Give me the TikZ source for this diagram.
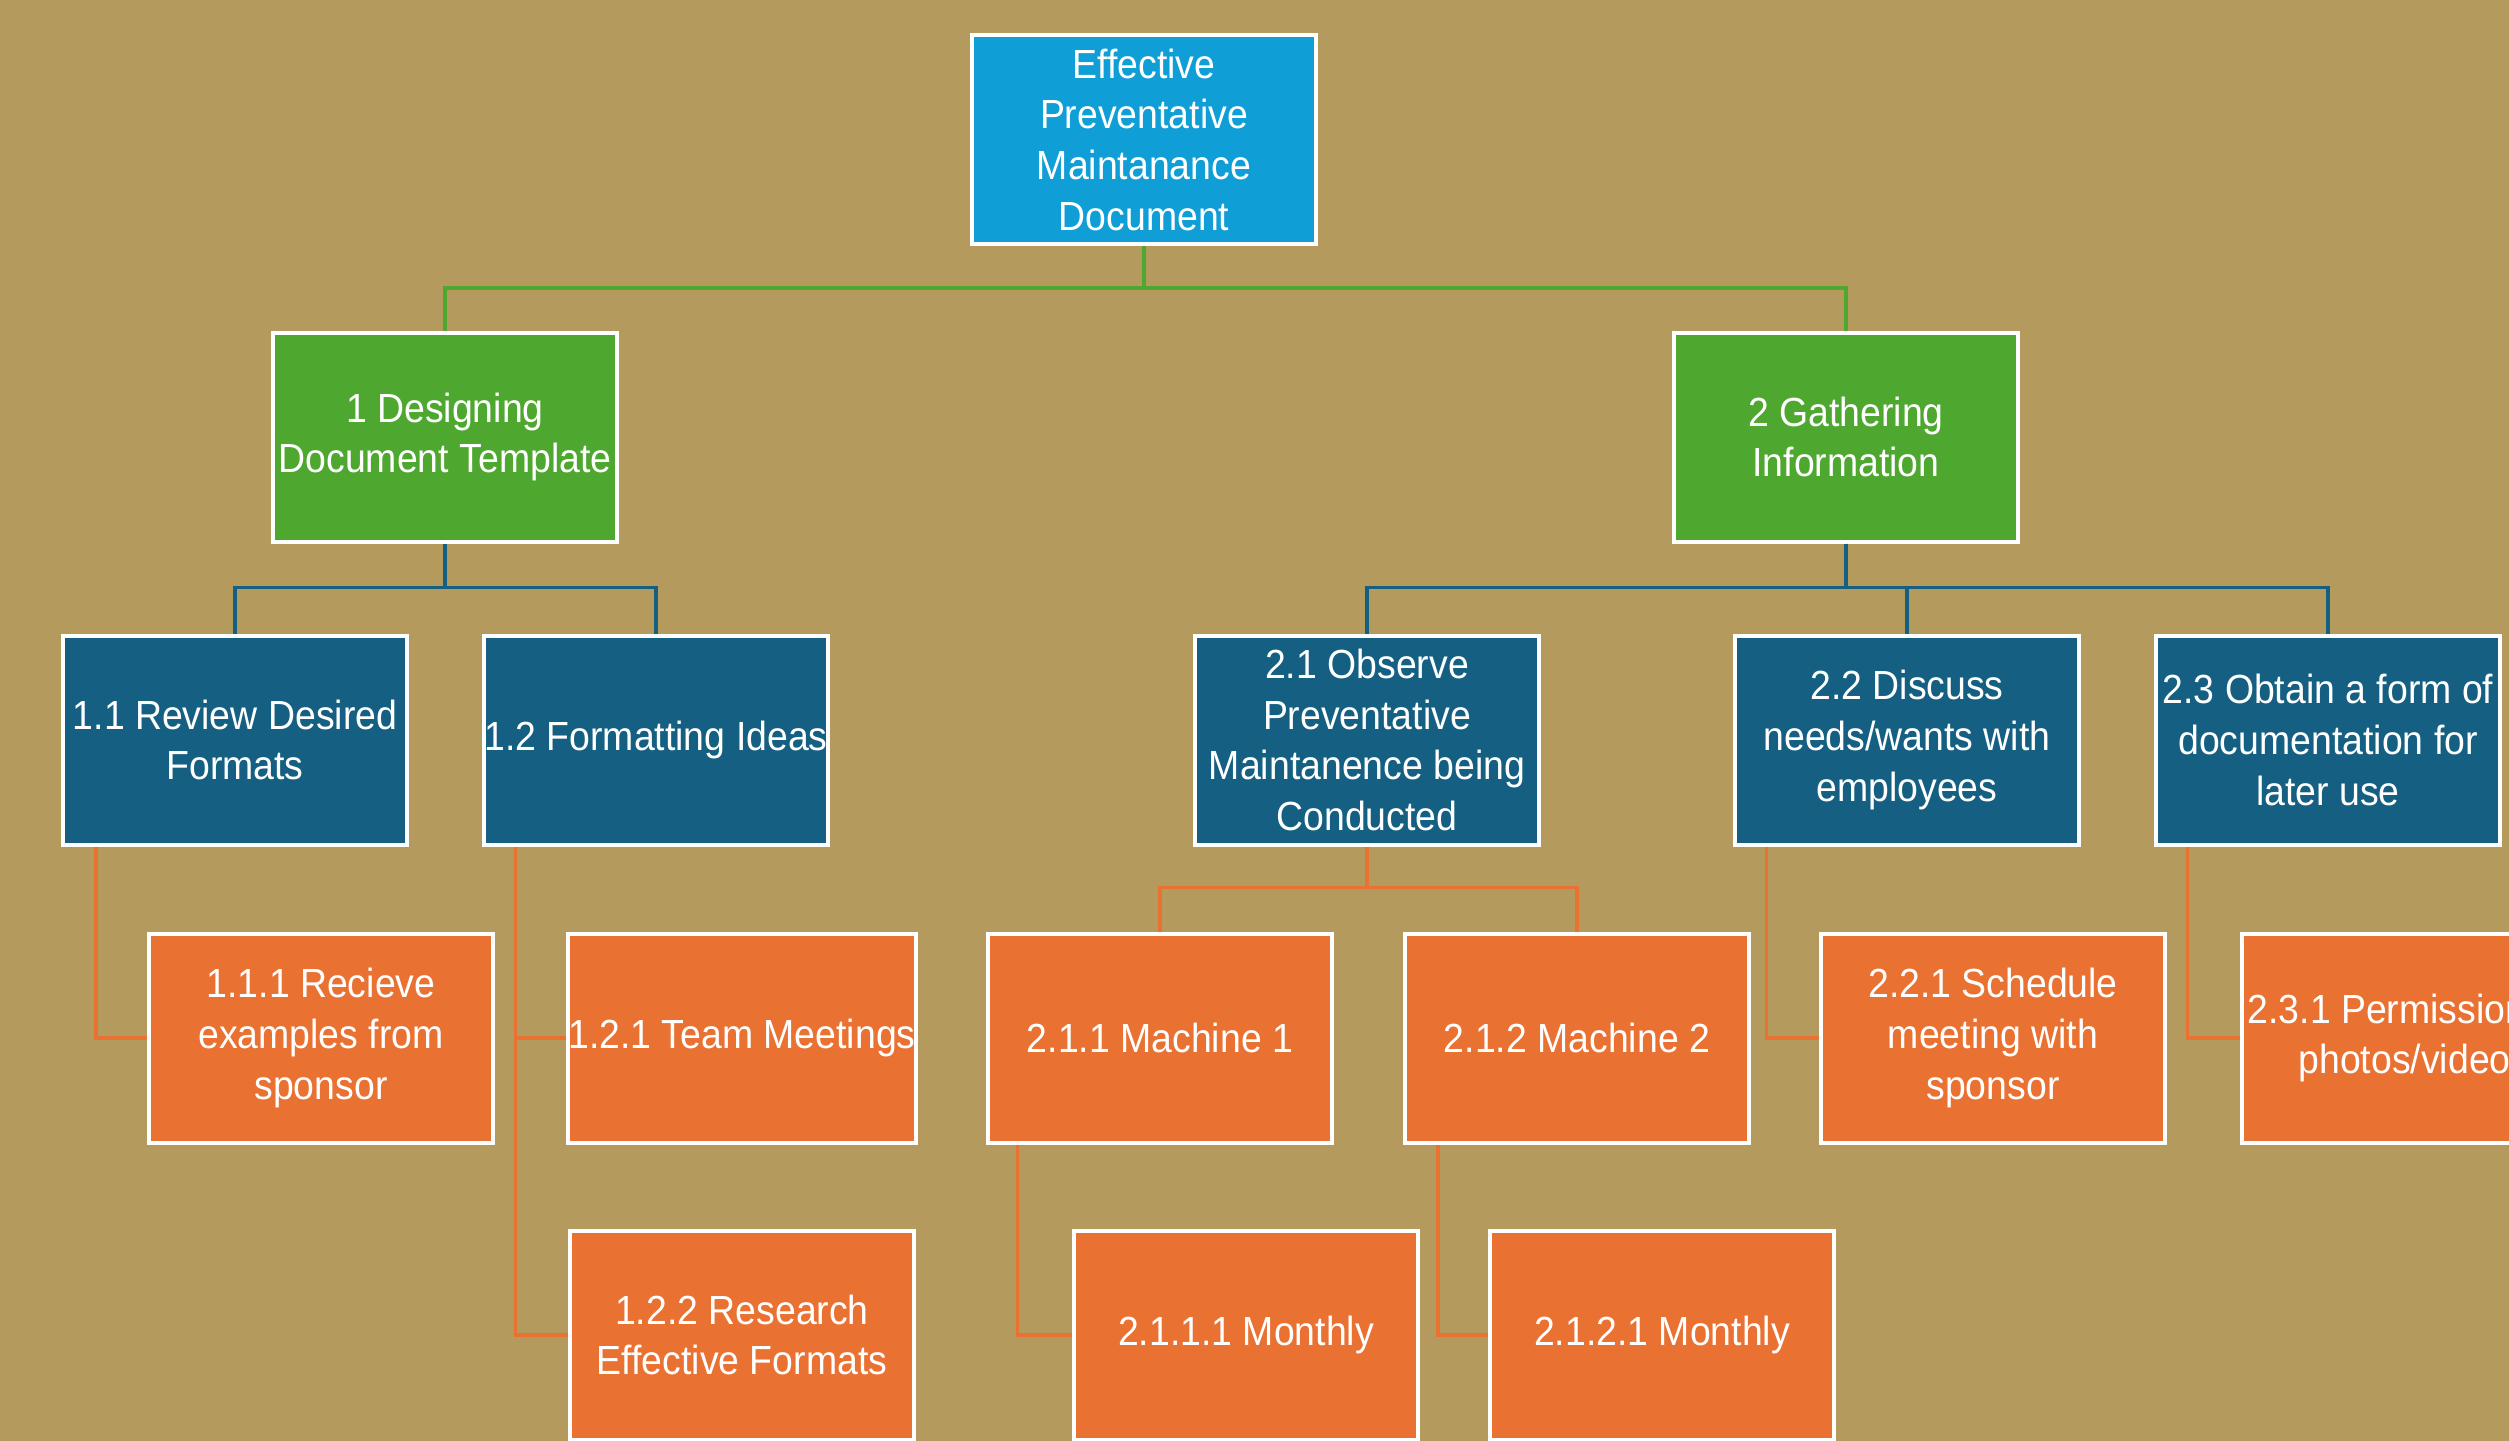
\documentclass[tikz,border=0pt]{standalone}
\usepackage{fontspec}
\setmainfont{Liberation Sans}[FakeStretch=0.92]
\definecolor{bgtan}{HTML}{B49A5C}
\definecolor{topblue}{HTML}{0F9ED5}
\definecolor{lvgreen}{HTML}{4EA72E}
\definecolor{darkblue}{HTML}{156082}
\definecolor{lvorange}{HTML}{E97132}
\tikzset{
  box/.style={rectangle, draw=white, line width=1.2pt, inner sep=0pt,
    minimum width=103.2pt, minimum height=62.7pt, align=center, text=white,
    font=\fontsize{12.2}{15.2}\selectfont},
  topbox/.style={box, fill=topblue},
  greenbox/.style={box, fill=lvgreen},
  bluebox/.style={box, fill=darkblue},
  orangebox/.style={box, fill=lvorange},
  gline/.style={draw=lvgreen, line width=1pt},
  bline/.style={draw=darkblue, line width=1pt},
  oline/.style={draw=lvorange, line width=1pt}
}
\begin{document}
\begin{tikzpicture}[x=0.3pt, y=-0.3pt]
\fill[bgtan] (0,0) rectangle (2509,1441);
\useasboundingbox (0,0) rectangle (2509,1441);
\clip (0,0) rectangle (2509,1441);

\node[topbox] (T) at (1144,139.5) {Effective\\Preventative\\Maintanance\\Document};

\node[greenbox] (A) at (445,437) {1 Designing\\Document Template};
\node[greenbox] (B) at (1846,437) {2 Gathering\\Information};

\node[bluebox] (A1) at (235,740) {1.1 Review Desired\\Formats};
\node[bluebox] (A2) at (656,740) {1.2 Formatting Ideas};
\node[bluebox] (B1) at (1367,740) {2.1 Observe\\Preventative\\Maintanence being\\Conducted};
\node[bluebox] (B2) at (1907,740) {2.2 Discuss\\needs/wants with\\employees};
\node[bluebox] (B3) at (2328,740) {2.3 Obtain a form of\\documentation for\\later use};

\node[orangebox] (A11) at (321,1038) {1.1.1 Recieve\\examples from\\sponsor};
\node[orangebox] (A21) at (742,1038) {1.2.1 Team Meetings};
\node[orangebox] (A22) at (742,1335) {1.2.2 Research\\Effective Formats};
\node[orangebox] (B11) at (1160,1038) {2.1.1 Machine 1};
\node[orangebox] (B12) at (1577,1038) {2.1.2 Machine 2};
\node[orangebox] (B111) at (1246,1335) {2.1.1.1 Monthly};
\node[orangebox] (B121) at (1662,1335) {2.1.2.1 Monthly};
\node[orangebox] (B21) at (1993,1038) {2.2.1 Schedule\\meeting with\\sponsor};
\node[orangebox] (B31) at (2414,1038) {2.3.1 Permission for\\photos/videos};

% level 1 connectors
\draw[gline] (T.south) -- ++(0,42) -| (A.north);
\draw[gline] (T.south) -- ++(0,42) -| (B.north);

% level 2 connectors
\draw[bline] (A.south) -- ++(0,44) -| (A1.north);
\draw[bline] (A.south) -- ++(0,44) -| (A2.north);
\draw[bline] (B.south) -- ++(0,44) -| (B1.north);
\draw[bline] (B.south) -- ++(0,44) -| (B2.north);
\draw[bline] (B.south) -- ++(0,44) -| (B3.north);

% level 3 connectors
\draw[oline] (B1.south) -- ++(0,41) -| (B11.north);
\draw[oline] (B1.south) -- ++(0,41) -| (B12.north);
\draw[oline] ([xshift=10.5pt]A1.south west) |- (A11.west);
\draw[oline] ([xshift=10pt]A2.south west) |- (A21.west);
\draw[oline] ([xshift=10pt]A2.south west) |- (A22.west);
\draw[oline] ([xshift=10pt]B2.south west) |- (B21.west);
\draw[oline] ([xshift=10pt]B3.south west) |- (B31.west);

% level 4 connectors
\draw[oline] ([xshift=9.5pt]B11.south west) |- (B111.west);
\draw[oline] ([xshift=10.5pt]B12.south west) |- (B121.west);
\end{tikzpicture}
\end{document}
